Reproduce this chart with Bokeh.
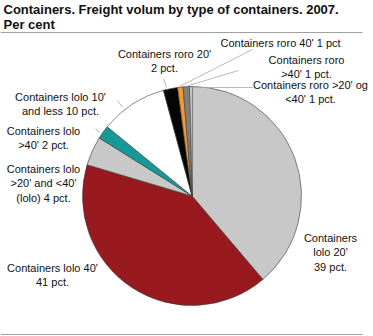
import math
from bokeh.plotting import figure
from bokeh.models import Range1d
from bokeh.core.properties import value
from bokeh.embed import file_html
from bokeh.resources import INLINE

# Data (per cent), clockwise from 12 o'clock
categories = [
    "Containers lolo 20'",
    "Containers lolo 40'",
    "Containers lolo >20' and <40' (lolo)",
    "Containers lolo >40'",
    "Containers lolo 10' and less",
    "Containers roro 20'",
    "Containers roro 40'",
    "Containers roro >40'",
    "Containers roro >20' og <40'",
]
shares = [38.8, 40.8, 4.3, 2.0, 9.9, 2.1, 0.8, 1.0, 0.3]
label_texts = [
    ["Containers", "lolo 20'", "39 pct."],
    ["Containers lolo 40'", "41 pct."],
    ["Containers lolo", ">20' and <40'", "(lolo) 4 pct."],
    ["Containers lolo", ">40' 2 pct."],
    ["Containers lolo 10'", "and less 10 pct."],
    ["Containers roro 20'", "2 pct."],
    ["Containers roro 40' 1 pct"],
    ["Containers roro", ">40' 1 pct."],
    ["Containers roro >20' og", "<40' 1 pct."],
]
colors = ["#c8c8c8", "#98191e", "#c8c8c8", "#159a98", "#ffffff",
          "#050505", "#f39a2c", "#7f7f7f", "#ffffff"]

W, H = 373, 336
FONT = "Liberation Sans"

p = figure(width=W, height=H, output_backend="svg", toolbar_location=None,
           x_range=Range1d(0, W), y_range=Range1d(0, H), min_border=0)
p.axis.visible = False
p.grid.visible = False
p.outline_line_color = None
p.background_fill_color = "white"

def Y(py):
    return H - py

cx, cy, r = 191.5, 195.5, 109.5

total = sum(shares)
starts, ends = [], []
cum = 0.0
for s in shares:
    a0 = math.pi / 2 - 2 * math.pi * cum / total
    cum += s
    a1 = math.pi / 2 - 2 * math.pi * cum / total
    starts.append(a0)
    ends.append(a1)

p.wedge(x=[cx] * len(shares), y=[Y(cy)] * len(shares), radius=r,
        start_angle=starts, end_angle=ends, direction="clock",
        fill_color=colors, line_color="#3a3a3a", line_width=0.6)

# Leader lines (layout)
leaders = [
    ((163, 78), (166, 87)),
    ((117, 100), (122, 107)),
    ((95, 128), (99, 132)),
    ((252, 49), (179, 86)),
    ((238, 70), (185, 86)),
    ((252, 87), (190, 87)),
]
p.segment(x0=[a[0] for a, b in leaders], y0=[Y(a[1]) for a, b in leaders],
          x1=[b[0] for a, b in leaders], y1=[Y(b[1]) for a, b in leaders],
          line_color="#a8a8a8", line_width=0.8)

# Label positions (center x, first-line center y)
label_pos = [
    (330, 237),
    (52, 267),
    (43, 168),
    (43, 130),
    (60, 96),
    (164, 53),
    (280, 42),
    (306, 59),
    (310, 84),
]
lx, ly, lt = [], [], []
for (x, y), lines in zip(label_pos, label_texts):
    for i, t in enumerate(lines):
        lx.append(x)
        ly.append(Y(y + i * 14.5))
        lt.append(t)
p.text(x=lx, y=ly, text=lt, text_font=value(FONT), text_font_size="11px",
       text_align="center", text_baseline="middle", text_color="#111111")

# Title
p.text(x=[3, 3], y=[Y(9), Y(24)],
       text=["Containers. Freight volum by type of containers. 2007.", "Per cent"],
       text_font=value(FONT), text_font_size="13px", text_font_style="bold",
       text_align="left", text_baseline="middle", text_color="#111111")

# Rules
p.segment(x0=[0, 0], y0=[Y(32), Y(334)], x1=[362, 362], y1=[Y(32), Y(334)],
          line_color="#a0a0a0", line_width=1)

open("out.html", "w").write(file_html(p, INLINE))
